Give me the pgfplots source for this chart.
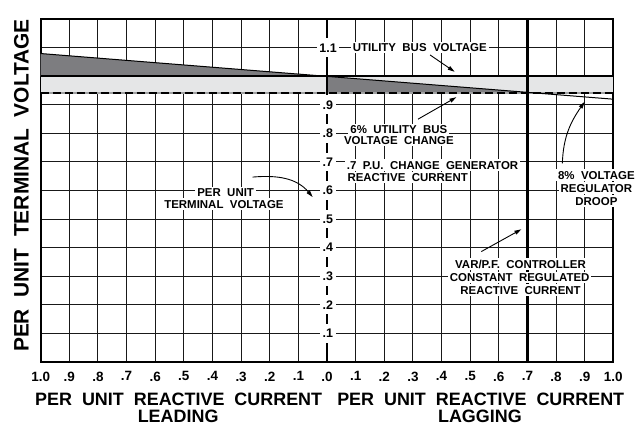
\documentclass[border=0pt]{standalone}
\usepackage{pgfplots}
\pgfplotsset{compat=1.18}
\usepackage{fontspec}
\setmainfont{Liberation Sans}[WordSpace=2]
\usetikzlibrary{arrows.meta}
\definecolor{darkband}{RGB}{125,125,128}
\definecolor{lightband}{RGB}{229,230,231}

\begin{document}
\begin{tikzpicture}[
  lbl/.style={fill=white, inner xsep=2bp, inner ysep=1.5bp, text height=8.3bp, text depth=0bp, font=\fontsize{11.5}{12}\selectfont\bfseries},
  yl/.style={fill=white, inner xsep=2.5bp, inner ysep=5bp, text height=8.8bp, text depth=0bp, font=\fontsize{12.5}{12}\selectfont\bfseries},
  arr/.style={-{Triangle[length=7bp,width=4bp]}, line width=0.9bp},
]
\begin{axis}[
  scale only axis, width=572.6bp, height=342.4bp,
  xmin=-1, xmax=1, ymin=0, ymax=1.2,
  xtick={-1,-0.9,-0.8,-0.7,-0.6,-0.5,-0.4,-0.3,-0.2,-0.1,0,0.1,0.2,0.3,0.4,0.5,0.6,0.7,0.8,0.9,1},
  xticklabels={1.0,.9,.8,.7,.6,.5,.4,.3,.2,.1,.0,.1,.2,.3,.4,.5,.6,.7,.8,.9,1.0},
  ytick={0.1,0.2,0.3,0.4,0.5,0.6,0.7,0.8,0.9,1.0,1.1},
  yticklabels={},
  major tick length=0,
  grid=major,
  grid style={black!90, line width=1bp},
  axis line style={line width=2.2bp},
  xticklabel style={font=\fontsize{13.5}{13}\selectfont\bfseries, yshift=-6.5bp},
  clip=false,
]
% bands and triangles
\addplot[fill=lightband, draw=none] coordinates {(-1,0.94) (1,0.94) (1,1) (-1,1)} -- cycle;
\addplot[fill=darkband, draw=none] coordinates {(-1,1) (-1,1.08) (0,1)} -- cycle;
\addplot[fill=darkband, draw=none] coordinates {(0,1) (0.7,0.944) (0.7,0.94) (0,0.94)} -- cycle;
% 6% change dashed line
\addplot[lightband!70!black, line width=2bp] coordinates {(-1,0.94) (1,0.94)};
\addplot[black, line width=2bp, dash pattern=on 8bp off 4bp] coordinates {(-1,0.94) (1,0.94)};
% droop line
\addplot[black, line width=1bp] coordinates {(-1,1.08) (1,0.92)};
% utility bus voltage
\addplot[black, line width=2.2bp] coordinates {(-1,1) (1,1)};
% vertical lines
\addplot[black, line width=2.2bp] coordinates {(0,0) (0,1.2)};
\addplot[black, line width=2.2bp] coordinates {(0.7,0) (0.7,1.2)};

\coordinate (SW) at (rel axis cs:0,0);

% y tick labels on the zero line
\node[yl] at (axis cs:0.004,1.1) {1.1};
\node[yl] at (axis cs:0.003,0.9) {.9};
\node[yl] at (axis cs:0.003,0.8) {.8};
\node[yl] at (axis cs:0.003,0.7) {.7};
\node[yl] at (axis cs:0.003,0.6) {.6};
\node[yl] at (axis cs:0.003,0.5) {.5};
\node[yl] at (axis cs:0.003,0.4) {.4};
\node[yl] at (axis cs:0.003,0.3) {.3};
\node[yl] at (axis cs:0.003,0.2) {.2};
\node[yl] at (axis cs:0.003,0.1) {.1};

% annotations
\node[lbl] at (axis cs:0.324,1.1) {UTILITY BUS VOLTAGE};
\draw[arr] (axis cs:0.36,1.075) -- (axis cs:0.446,1.016);

\node[lbl] at (axis cs:0.251,0.815) {6\% UTILITY BUS};
\node[lbl] at (axis cs:0.251,0.775) {VOLTAGE CHANGE};
\draw[arr] (axis cs:0.318,0.850) -- (axis cs:0.452,0.927);

\node[lbl, anchor=west] at (axis cs:0.062,0.689) {.7 P.U. CHANGE GENERATOR};
\node[lbl, anchor=west] at (axis cs:0.064,0.645) {REACTIVE CURRENT};

\node[lbl] at (axis cs:0.941,0.654) {8\% VOLTAGE};
\node[lbl] at (axis cs:0.941,0.609) {REGULATOR};
\node[lbl] at (axis cs:0.941,0.563) {DROOP};
\draw[arr] (axis cs:0.822,0.695) to[out=88,in=-125] (axis cs:0.9,0.911);

\node[lbl] at (axis cs:-0.354,0.592) {PER UNIT};
\node[lbl] at (axis cs:-0.36,0.553) {TERMINAL VOLTAGE};
\draw[arr] (axis cs:-0.26,0.647) to[out=5,in=130] (axis cs:-0.05,0.577);

\node[lbl] at (axis cs:0.676,0.342) {VAR/P.F. CONTROLLER};
\node[lbl] at (axis cs:0.673,0.296) {CONSTANT REGULATED};
\node[lbl] at (axis cs:0.676,0.251) {REACTIVE CURRENT};
\draw[arr] (axis cs:0.539,0.386) -- (axis cs:0.679,0.464);

% axis titles
\node[rotate=90, font=\fontsize{21}{21}\selectfont\bfseries] at (axis cs:-1.067,0.6175) {PER UNIT TERMINAL VOLTAGE};
\node[anchor=base, font=\fontsize{18}{18}\selectfont\bfseries] at (axis cs:-0.518,-0.1542) {PER UNIT REACTIVE CURRENT};
\node[anchor=base, font=\fontsize{18}{18}\selectfont\bfseries] at (axis cs:0.537,-0.1542) {PER UNIT REACTIVE CURRENT};
\node[anchor=base, font=\fontsize{18}{18}\selectfont\bfseries] at (axis cs:-0.52,-0.2138) {LEADING};
\node[anchor=base, font=\fontsize{18}{18}\selectfont\bfseries] at (axis cs:0.534,-0.2138) {LAGGING};
\end{axis}
\pgfresetboundingbox
\path ([shift={(-40.7bp,-63.3bp)}]SW) rectangle ++(639bp,425bp);
\end{tikzpicture}
\end{document}
